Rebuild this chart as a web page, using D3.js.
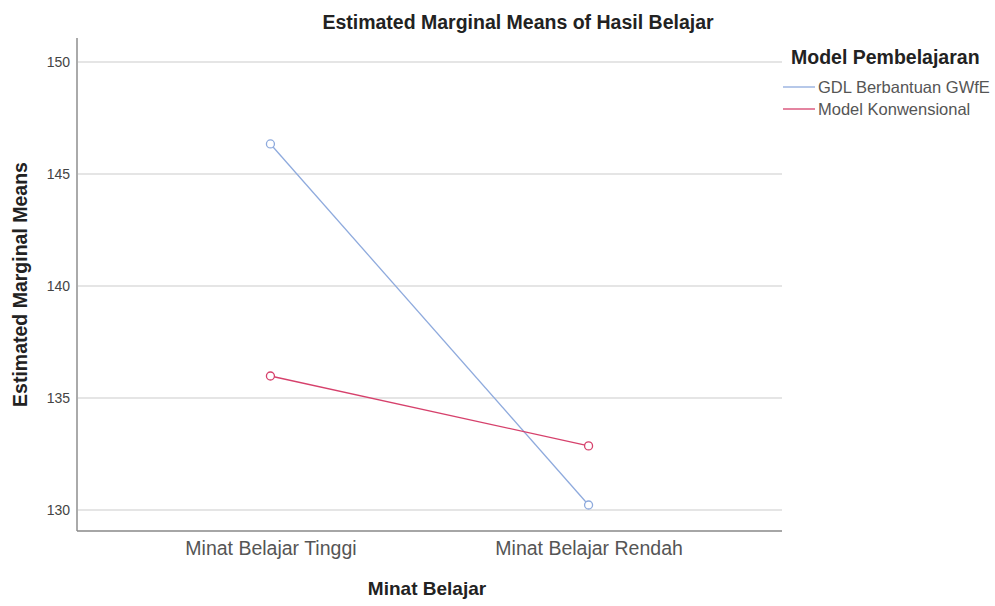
<!DOCTYPE html>
<html>
<head>
<meta charset="utf-8">
<script src="https://cdn.jsdelivr.net/npm/d3@7"></script>
<style>
  body { margin: 0; background: #fff; }
  svg { display: block; font-family: Arial, "Liberation Sans", sans-serif; }
</style>
</head>
<body>
<svg width="995" height="606"></svg>
<script>
// data
const categories = ["Minat Belajar Tinggi", "Minat Belajar Rendah"];
const seriesNames = ["GDL Berbantuan GWfE", "Model Konwensional"];
const gdlValues = [146.34, 130.22];
const konvValues = [135.98, 132.86];
const yTicks = [130, 135, 140, 145, 150];

const colors = ["#8eaadd", "#d6416c"];
const series = [
    { name: seriesNames[0], values: gdlValues, color: colors[0] },
    { name: seriesNames[1], values: konvValues, color: colors[1] }
];

const svg = d3.select("svg");
const plotLeft = 77, plotRight = 782, plotTop = 38, plotBottom = 531;

const x = d3.scalePoint()
    .domain(categories)
    .range([plotLeft, plotRight])
    .padding(0.608);

const y = d3.scaleLinear()
    .domain([129.06, 151.07])
    .range([plotBottom, plotTop]);

// gridlines
svg.append("g")
    .selectAll("line")
    .data(yTicks)
    .join("line")
    .attr("x1", plotLeft)
    .attr("x2", plotRight)
    .attr("y1", d => y(d))
    .attr("y2", d => y(d))
    .attr("stroke", "#dcdcdc")
    .attr("stroke-width", 1.5);

// y axis
const yAxis = svg.append("g")
    .attr("transform", `translate(${plotLeft},0)`)
    .call(d3.axisLeft(y).tickValues(yTicks).tickSize(0).tickPadding(7));
yAxis.select(".domain").attr("stroke", "#aaaaaa").attr("stroke-width", 2)
    .attr("d", `M0,${plotTop}V${plotBottom}`);
yAxis.selectAll("text").attr("font-size", 14).attr("fill", "#444");

// x axis
const xAxis = svg.append("g")
    .attr("transform", `translate(0,${plotBottom})`)
    .call(d3.axisBottom(x).tickSize(0).tickPadding(10));
xAxis.select(".domain").attr("stroke", "#888").attr("stroke-width", 1.5)
    .attr("d", `M${plotLeft},0H${plotRight}`);
xAxis.selectAll("text").attr("font-size", 19.5).attr("fill", "#555");

// lines and markers
const line = d3.line()
    .x((d, i) => x(categories[i]))
    .y(d => y(d));

series.forEach(s => {
    svg.append("path")
        .datum(s.values)
        .attr("fill", "none")
        .attr("stroke", s.color)
        .attr("stroke-width", 1.3)
        .attr("d", line);
    svg.append("g")
        .selectAll("circle")
        .data(s.values)
        .join("circle")
        .attr("cx", (d, i) => x(categories[i]))
        .attr("cy", d => y(d))
        .attr("r", 4)
        .attr("fill", "#fff")
        .attr("stroke", s.color)
        .attr("stroke-width", 1.3);
});

// titles
svg.append("text")
    .attr("x", 518)
    .attr("y", 29)
    .attr("text-anchor", "middle")
    .attr("font-size", 19.5)
    .attr("font-weight", "bold")
    .attr("fill", "#222")
    .text("Estimated Marginal Means of Hasil Belajar");

svg.append("text")
    .attr("transform", `translate(27,${(plotTop + plotBottom) / 2}) rotate(-90)`)
    .attr("text-anchor", "middle")
    .attr("font-size", 19.5)
    .attr("font-weight", "bold")
    .attr("fill", "#222")
    .text("Estimated Marginal Means");

svg.append("text")
    .attr("x", 427)
    .attr("y", 595)
    .attr("text-anchor", "middle")
    .attr("font-size", 19)
    .attr("font-weight", "bold")
    .attr("fill", "#222")
    .text("Minat Belajar");

// legend
const legend = svg.append("g");
legend.append("text")
    .attr("x", 791)
    .attr("y", 64)
    .attr("font-size", 19.5)
    .attr("font-weight", "bold")
    .attr("fill", "#222")
    .text("Model Pembelajaran");

const item = legend.selectAll("g.item")
    .data(series)
    .join("g")
    .attr("class", "item")
    .attr("transform", (d, i) => `translate(0,${87 + i * 22})`);
item.append("line")
    .attr("x1", 783).attr("x2", 815)
    .attr("stroke", d => d.color)
    .attr("stroke-width", 1.3);
item.append("text")
    .attr("x", 818)
    .attr("dy", "0.35em")
    .attr("font-size", 16.5)
    .attr("fill", "#555")
    .text(d => d.name);
</script>
</body>
</html>
